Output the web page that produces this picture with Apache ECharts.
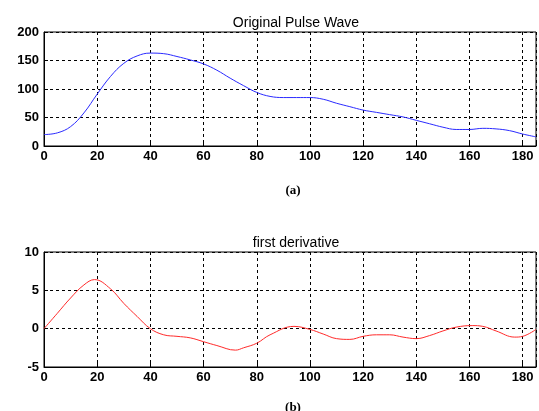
<!DOCTYPE html>
<html>
<head>
<meta charset="utf-8">
<script src="https://cdn.jsdelivr.net/npm/echarts@6/dist/echarts.min.js"></script>
<style>
  html, body { margin: 0; padding: 0; background: #fff; }
  #chart { width: 539px; height: 411px; }
</style>
</head>
<body>
<div id="chart"></div>
<script>
// samples (x index, value)
const pulseX = [0, 5, 10, 15, 20, 25, 30, 35, 40, 45, 50, 55, 60, 65, 70, 75, 80, 85, 90, 95, 100,
  105, 110, 115, 120, 125, 130, 135, 140, 145, 150, 155, 160, 165, 170, 175, 180, 185]
const pulseY = [20, 23, 34, 58, 91, 122, 145, 158, 163, 162, 157, 151, 144, 133, 119, 106, 94, 87, 85, 85, 85,
  82, 75, 69, 63, 59, 55, 51, 45, 39, 33, 29, 29, 31, 30, 27, 21, 16]

const derivX = [0, 5, 10, 15, 19, 25, 30, 35, 40, 45, 50, 55, 60, 65, 72, 75, 80, 85, 94, 100,
  105, 110, 115, 120, 125, 130, 135, 140, 145, 150, 155, 161, 165, 170, 177, 180, 185]
const derivY = [0, 2.0, 4.0, 5.7, 6.4, 5.2, 3.3, 1.6, 0, -0.8, -1.0, -1.2, -1.7, -2.2, -2.8, -2.5, -1.9, -0.8, 0.3, -0.1,
  -0.7, -1.3, -1.4, -1.0, -0.8, -0.8, -1.1, -1.3, -0.9, -0.3, 0.2, 0.4, 0.3, -0.3, -1.1, -1.0, -0.1]

const xTicks = { min: 0, max: 185, interval: 20 }
const topTicks = { min: 0, max: 200, interval: 50 }
const bottomTicks = { min: -5, max: 10, interval: 5 }

const pairs = (xs, ys) => xs.map((x, i) => [x, ys[i]])

const labelStyle = {
  color: '#000',
  fontFamily: 'Liberation Sans',
  fontSize: 13,
  fontWeight: 'bold'
}
const gridLine = { show: true, lineStyle: { color: '#000', type: [3, 3], width: 1 } }

const makeX = (gridIndex) => ({
  type: 'value',
  gridIndex,
  ...xTicks,
  axisLine: { show: true, onZero: false, lineStyle: { color: '#000' } },
  axisTick: { show: true, inside: true, length: 4, lineStyle: { color: '#000' } },
  axisLabel: { ...labelStyle, margin: 4, formatter: v => (v % 20 === 0 ? v : '') },
  splitLine: gridLine
})
const makeY = (gridIndex, ticks) => ({
  type: 'value',
  gridIndex,
  ...ticks,
  axisLine: { show: true, onZero: false, lineStyle: { color: '#000' } },
  axisTick: { show: true, inside: true, length: 4, lineStyle: { color: '#000' } },
  axisLabel: { ...labelStyle, margin: 5 },
  splitLine: gridLine
})

const titleStyle = { fontFamily: 'Liberation Sans', fontSize: 14, fontWeight: 'normal', color: '#000' }
const tagStyle = { fontFamily: 'Liberation Serif', fontSize: 13, fontWeight: 'bold', color: '#000' }

const chart = echarts.init(document.getElementById('chart'))
chart.setOption({
  animation: false,
  backgroundColor: '#fff',
  title: [
    { text: 'Original Pulse Wave', left: 291, top: 11, textAlign: 'center', textStyle: titleStyle },
    { text: '(a)', left: 288, top: 179, textAlign: 'center', textStyle: tagStyle },
    { text: 'first derivative', left: 291, top: 231, textAlign: 'center', textStyle: titleStyle },
    { text: '(b)', left: 288, top: 396, textAlign: 'center', textStyle: tagStyle }
  ],
  grid: [
    { left: 44, right: 1, top: 32, height: 114, show: true, borderColor: '#000', borderWidth: 1 },
    { left: 44, right: 1, top: 252, height: 115, show: true, borderColor: '#000', borderWidth: 1 }
  ],
  xAxis: [makeX(0), makeX(1)],
  yAxis: [makeY(0, topTicks), makeY(1, bottomTicks)],
  series: [
    {
      type: 'line', xAxisIndex: 0, yAxisIndex: 0,
      data: pairs(pulseX, pulseY),
      smooth: 0.4, showSymbol: false,
      lineStyle: { color: '#2a2aff', width: 1 }
    },
    {
      type: 'line', xAxisIndex: 1, yAxisIndex: 1,
      data: pairs(derivX, derivY),
      smooth: 0.4, showSymbol: false,
      lineStyle: { color: '#ff2a2a', width: 1 }
    }
  ]
})
</script>
</body>
</html>
